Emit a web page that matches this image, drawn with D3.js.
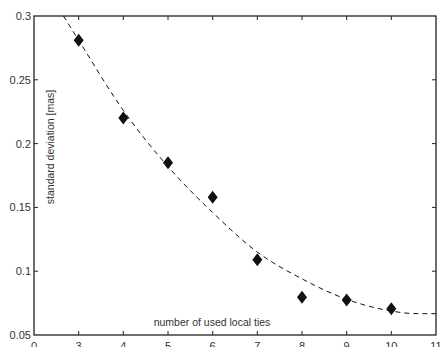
<!DOCTYPE html>
<html>
<head>
<meta charset="utf-8">
<script src="https://cdn.jsdelivr.net/npm/d3@7"></script>
<style>
  body { margin: 0; background: #fff; }
  text { font-family: "Liberation Sans", Arial, sans-serif; fill: #333; }
</style>
</head>
<body>
<div id="chart"></div>
<script>
// measured points (diamonds)
var ties = [3, 4, 5, 6, 7, 8, 9, 10];
var stdDev = [0.281, 0.220, 0.185, 0.158, 0.109, 0.0795, 0.0775, 0.0705];

// dashed fit curve
var fitX = [2.66, 3, 4, 5, 6, 7, 8, 9, 10, 10.5, 11];
var fitY = [0.300, 0.281, 0.226, 0.182, 0.146, 0.115, 0.094, 0.078, 0.0688, 0.0668, 0.0667];

var xTicks = [2, 3, 4, 5, 6, 7, 8, 9, 10, 11];
var xTickLabels = ["0", "3", "4", "5", "6", "7", "8", "9", "10", "11"];
var yTicks = [0.05, 0.1, 0.15, 0.2, 0.25, 0.3];
var yTickLabels = ["0.05", "0.1", "0.15", "0.2", "0.25", "0.3"];

var width = 441,
  height = 347;

var svg = d3.select('#chart').append('svg')
  .attr('width', width)
  .attr('height', height);

var x = d3.scaleLinear().domain([2, 11]).range([34, 436]);
var y = d3.scaleLinear().domain([0.05, 0.3]).range([335, 16]);

// box edges
var boxL = x.range()[0], boxR = x.range()[1];
var boxT = y.range()[1], boxB = y.range()[0];

// inward ticks on all four sides
var tickLen = 4;
xTicks.slice(1, -1).forEach(function(t) {
  svg.append("line")
    .attr("x1", x(t)).attr("x2", x(t))
    .attr("y1", boxB).attr("y2", boxB - tickLen)
    .style("stroke", "#222").style("stroke-width", 1);
  svg.append("line")
    .attr("x1", x(t)).attr("x2", x(t))
    .attr("y1", boxT).attr("y2", boxT + tickLen)
    .style("stroke", "#222").style("stroke-width", 1);
});
yTicks.slice(1, -1).forEach(function(t) {
  svg.append("line")
    .attr("x1", boxL).attr("x2", boxL + tickLen)
    .attr("y1", y(t)).attr("y2", y(t))
    .style("stroke", "#222").style("stroke-width", 1);
  svg.append("line")
    .attr("x1", boxR).attr("x2", boxR - tickLen)
    .attr("y1", y(t)).attr("y2", y(t))
    .style("stroke", "#222").style("stroke-width", 1);
});

svg.append("rect")
  .attr("x", boxL)
  .attr("y", boxT)
  .attr("width", boxR - boxL)
  .attr("height", boxB - boxT)
  .style("fill", "none")
  .style("stroke", "#222")
  .style("stroke-width", 1.3);

// tick labels
svg.selectAll(".xlab")
  .data(xTicks)
  .enter().append("text")
  .attr("class", "xlab")
  .attr("x", function(d) { return x(d); })
  .attr("y", 350)
  .attr("text-anchor", "middle")
  .style("font-size", "11px")
  .text(function(d, i) { return xTickLabels[i]; });

svg.selectAll(".ylab")
  .data(yTicks)
  .enter().append("text")
  .attr("class", "ylab")
  .attr("x", 31)
  .attr("y", function(d) { return y(d) + 4; })
  .attr("text-anchor", "end")
  .style("font-size", "11px")
  .text(function(d, i) { return yTickLabels[i]; });

// fit curve
svg.append("clipPath").attr("id", "plotclip")
  .append("rect")
  .attr("x", boxL).attr("y", boxT)
  .attr("width", boxR - boxL).attr("height", boxB - boxT);

var line = d3.line()
  .x(function(d, i) { return x(fitX[i]); })
  .y(function(d) { return y(d); })
  .curve(d3.curveMonotoneX);

svg.append("path")
  .datum(fitY)
  .attr("d", line)
  .attr("clip-path", "url(#plotclip)")
  .style("fill", "none")
  .style("stroke", "#111")
  .style("stroke-width", 1)
  .style("stroke-dasharray", "5,4");

// diamonds (matlab 'd' marker: a bit taller than wide)
var diamondShape = "M0,-6.5L5,0L0,6.5L-5,0Z";
svg.selectAll(".pt")
  .data(ties)
  .enter().append("path")
  .attr("class", "pt")
  .attr("d", diamondShape)
  .attr("transform", function(d, i) {
    return "translate(" + x(d) + "," + y(stdDev[i]) + ")";
  })
  .style("fill", "#111");

// axis titles (placed inside the box, as in the original)
svg.append("text")
  .text("number of used local ties")
  .attr("x", 212)
  .attr("y", 326)
  .attr("text-anchor", "middle")
  .style("font-size", "10.5px");

svg.append("text")
  .text("standard deviation [mas]")
  .attr("transform", "translate(54,147) rotate(-90)")
  .attr("text-anchor", "middle")
  .style("font-size", "10.5px");
</script>
</body>
</html>
